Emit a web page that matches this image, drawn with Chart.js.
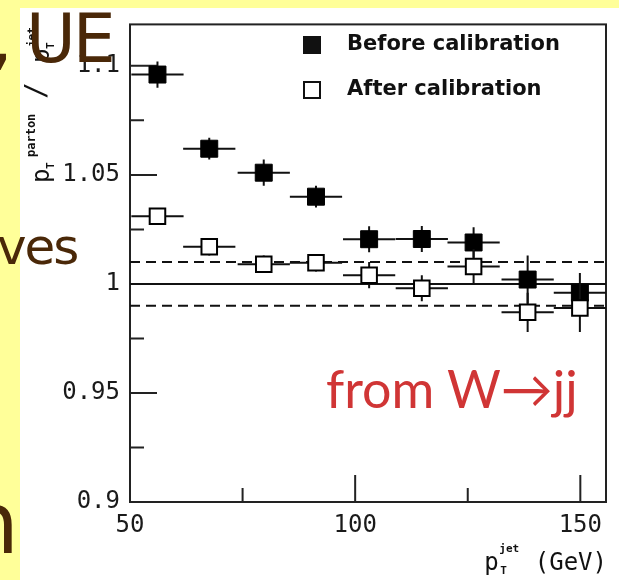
<!DOCTYPE html>
<html lang="en">
<head>
<meta charset="UTF-8">
<title>Jet pT balance before and after calibration</title>
<style>
  body { margin: 0; background-color: #FFFF99; width: 619px; height: 580px; overflow: hidden; position: relative; }
  .panel { position: absolute; left: 20px; top: 8px; width: 599px; height: 572px; background-color: #FFFFFF; }
  #chart { position: absolute; left: 0; top: 0; }
  .slide { position: absolute; color: #4A2808; font-family: "DejaVu Sans", sans-serif; line-height: 1; white-space: nowrap; }
  .note { position: absolute; left: 326px; top: 362px; color: #D03535; font-family: Lato, sans-serif; font-size: 52px; line-height: 1; white-space: nowrap; }
</style>
</head>
<body>
<div class="panel"></div>
<canvas id="chart" width="619" height="580"></canvas>

<div class="slide" style="left:-9px; top:5px; font-size:68px;">,</div>
<div class="slide" style="left:26px; top:5px; font-size:68px; letter-spacing:-3px;">UE</div>
<div class="slide" style="left:-3px; top:222px; font-size:50px; letter-spacing:-2px;">ves</div>
<div class="slide" style="left:-35px; top:481px; font-size:85px;">n</div>
<div class="note">from W→jj</div>

<script src="https://cdn.jsdelivr.net/npm/chart.js"></script>
<script>
// bin centres (GeV) and half widths
const xVals = [56.1, 67.6, 79.7, 91.3, 103.1, 114.8, 126.3, 138.3, 149.9];
const xHalfWidth = [5.8, 5.8, 5.8, 5.8, 5.8, 5.8, 5.8, 5.8, 5.8];

// pT(parton) / pT(jet)
const beforeVals = [1.096, 1.062, 1.051, 1.040, 1.0205, 1.0206, 1.019, 1.002, 0.996];
const beforeErr  = [0.006, 0.005, 0.006, 0.005, 0.006, 0.006, 0.007, 0.011, 0.009];
const afterVals  = [1.031, 1.017, 1.009, 1.0097, 1.004, 0.998, 1.008, 0.987, 0.989];
const afterErr   = [0.003, 0.004, 0.004, 0.004, 0.006, 0.006, 0.008, 0.009, 0.011];

const seriesNames = ['Before calibration', 'After calibration'];

// reference lines: unity and +-1%
const refLevels = [1, 1.01, 0.99];

const yTicks = [0.9, 0.95, 1, 1.05, 1.1];
const yTickLabels = ['0.9', '0.95', '1', '1.05', '1.1'];
const yMinorTicks = [0.925, 0.975, 1.025, 1.075];
const xTicks = [50, 100, 150];
const xTickLabels = ['50', '100', '150'];
const xMinorTicks = [75, 125];

const xMin = 50, xMax = 155.7;
const yMin = 0.9, yMax = 1.119;

const ink = '#111111';
const monoFont = '"DejaVu Sans Mono", monospace';

function points(vals) {
    return vals.map((v, i) => ({ x: xVals[i], y: v }));
}

// draws the frame and inward tick marks
const framePlugin = {
    id: 'frame',
    beforeDatasetsDraw(chart) {
        const { ctx, chartArea: a, scales: { x, y } } = chart;
        ctx.save();
        ctx.strokeStyle = '#222';
        ctx.lineWidth = 2;
        ctx.strokeRect(a.left, a.top, a.right - a.left, a.bottom - a.top);
        ctx.beginPath();
        yTicks.forEach(v => { const py = y.getPixelForValue(v); ctx.moveTo(a.left, py); ctx.lineTo(a.left + 27, py); });
        yMinorTicks.forEach(v => { const py = y.getPixelForValue(v); ctx.moveTo(a.left, py); ctx.lineTo(a.left + 14, py); });
        xTicks.forEach(v => { const px = x.getPixelForValue(v); ctx.moveTo(px, a.bottom); ctx.lineTo(px, a.bottom - 27); });
        xMinorTicks.forEach(v => { const px = x.getPixelForValue(v); ctx.moveTo(px, a.bottom); ctx.lineTo(px, a.bottom - 14); });
        ctx.stroke();
        ctx.restore();
    }
};

// x and y error bars, drawn just before each dataset's markers
const errorBarPlugin = {
    id: 'errorBars',
    beforeDatasetDraw(chart, args) {
        const ds = chart.data.datasets[args.index];
        if (!ds.errY) return;
        const { ctx, scales: { x, y } } = chart;
        ctx.save();
        ctx.strokeStyle = ink;
        ctx.lineWidth = 2;
        ctx.beginPath();
        ds.data.forEach((p, i) => {
            const px = x.getPixelForValue(p.x), py = y.getPixelForValue(p.y);
            ctx.moveTo(x.getPixelForValue(p.x - xHalfWidth[i]), py);
            ctx.lineTo(x.getPixelForValue(p.x + xHalfWidth[i]), py);
            ctx.moveTo(px, y.getPixelForValue(p.y - ds.errY[i]));
            ctx.lineTo(px, y.getPixelForValue(p.y + ds.errY[i]));
        });
        ctx.stroke();
        ctx.restore();
    }
};

// legend and axis titles
const labelsPlugin = {
    id: 'labels',
    afterDraw(chart) {
        const { ctx } = chart;
        ctx.save();
        // legend
        ctx.fillStyle = ink;
        ctx.fillRect(303, 36, 18, 18);
        ctx.fillStyle = '#fff';
        ctx.strokeStyle = ink;
        ctx.lineWidth = 2;
        ctx.fillRect(304, 82, 16, 16);
        ctx.strokeRect(304, 82, 16, 16);
        ctx.fillStyle = ink;
        ctx.font = 'bold 21px "DejaVu Sans"';
        ctx.textBaseline = 'middle';
        ctx.fillText(seriesNames[0], 347, 45);
        ctx.fillText(seriesNames[1], 347, 90);

        // x title: pT^jet (GeV), right aligned
        ctx.textBaseline = 'alphabetic';
        ctx.font = '24px ' + monoFont;
        const tail = ' (GeV)';
        const tailW = ctx.measureText(tail).width;
        let xr = 607;
        ctx.fillText(tail, xr - tailW, 570);
        xr -= tailW;
        ctx.font = 'bold 11px ' + monoFont;
        ctx.fillText('jet', xr - 21, 552);
        ctx.fillText('T', xr - 20, 574);
        ctx.font = '24px ' + monoFont;
        ctx.fillText('p', xr - 36, 570);

        // y title: pT^parton / pT^jet, rotated
        ctx.translate(49, 183);
        ctx.rotate(-Math.PI / 2);
        ctx.font = '24px ' + monoFont;
        ctx.fillText('p', 0, 0);
        ctx.font = 'bold 11px ' + monoFont;
        ctx.fillText('T', 14, 5);
        ctx.font = 'bold 12px ' + monoFont;
        ctx.fillText('parton', 26, -14);
        ctx.font = '28px ' + monoFont;
        ctx.fillText('/', 84, -4);
        ctx.font = '24px ' + monoFont;
        ctx.fillText('p', 120, 0);
        ctx.font = 'bold 11px ' + monoFont;
        ctx.fillText('T', 134, 5);
        ctx.fillText('jet', 136, -14);
        ctx.restore();
    }
};

const refDatasets = refLevels.map(lvl => ({
    data: [{ x: xMin, y: lvl }, { x: xMax, y: lvl }],
    showLine: true,
    borderColor: ink,
    borderWidth: 2,
    borderDash: lvl === 1 ? [] : [10, 6],
    pointRadius: 0,
    order: 3
}));

new Chart(document.getElementById('chart'), {
    type: 'scatter',
    data: {
        datasets: [
            ...refDatasets,
            {
                label: seriesNames[0],
                data: points(beforeVals),
                errY: beforeErr,
                pointStyle: 'rect',
                pointRadius: 12,
                backgroundColor: '#000',
                borderColor: '#000',
                borderWidth: 1,
                order: 2
            },
            {
                label: seriesNames[1],
                data: points(afterVals),
                errY: afterErr,
                pointStyle: 'rect',
                pointRadius: 11,
                backgroundColor: '#fff',
                borderColor: '#000',
                borderWidth: 2,
                order: 1
            }
        ]
    },
    options: {
        responsive: false,
        animation: false,
        layout: { padding: { left: 0, top: 22, right: 9, bottom: 0 } },
        plugins: { legend: { display: false }, tooltip: { enabled: false } },
        scales: {
            x: {
                type: 'linear',
                min: xMin,
                max: xMax,
                afterFit: s => { s.height = 78; },
                afterBuildTicks: s => { s.ticks = xTicks.map(v => ({ value: v })); },
                grid: { display: false, drawTicks: false },
                border: { display: false },
                ticks: {
                    padding: 9,
                    maxRotation: 0,
                    color: '#1a1a1a',
                    font: { family: monoFont, size: 24 },
                    callback: (v, i) => xTickLabels[i]
                }
            },
            y: {
                type: 'linear',
                min: yMin,
                max: yMax,
                afterFit: s => { s.width = 130; },
                afterBuildTicks: s => { s.ticks = yTicks.map(v => ({ value: v })); },
                grid: { display: false, drawTicks: false },
                border: { display: false },
                ticks: {
                    padding: 10,
                    color: '#1a1a1a',
                    font: { family: monoFont, size: 24 },
                    callback: (v, i) => yTickLabels[i]
                }
            }
        }
    },
    plugins: [framePlugin, errorBarPlugin, labelsPlugin]
});
</script>
</body>
</html>
